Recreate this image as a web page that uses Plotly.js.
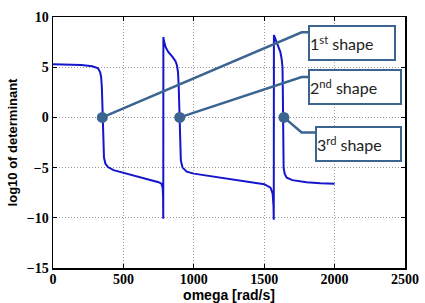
<!DOCTYPE html>
<html>
<head>
<meta charset="utf-8">
<script src="https://cdn.plot.ly/plotly-3.0.1.min.js"></script>
<style>html,body{margin:0;padding:0;background:#fff;}#chart{width:425px;height:303px;}</style>
</head>
<body>
<div id="chart"></div>
<script>
// log10 of determinant vs omega
var omega = [0, 100, 200, 280, 320, 335, 342, 347, 350, 352, 354, 357, 362, 372, 390, 430, 500, 600, 690, 750, 770, 779, 782, 783,
             784, 788, 800, 820, 850, 870, 880, 888, 893, 897, 900, 903, 908, 920, 950, 1000, 1100, 1200, 1300, 1400, 1500, 1545, 1560, 1566, 1568,
             1569, 1580, 1600, 1615, 1625, 1630, 1632, 1634, 1636, 1638, 1645, 1660, 1700, 1800, 1900, 2000];
var logDet = [5.3, 5.28, 5.22, 5.1, 4.9, 4.5, 4.0, 3.0, 1.5, 0, -1.5, -3.0, -4.0, -4.6, -4.95, -5.25, -5.5, -5.85, -6.2, -6.45, -6.6, -7.0, -8.0, -10.1,
              8.0, 7.6, 7.0, 6.5, 6.0, 5.6, 5.2, 4.5, 3.0, 1.0, -1.0, -3.0, -4.3, -5.0, -5.4, -5.6, -5.8, -6.0, -6.2, -6.4, -6.65, -7.0, -7.6, -8.8, -10.2,
              8.2, 7.8, 7.2, 6.5, 5.7, 5.0, 3.0, 0, -3.0, -5.0, -5.6, -6.0, -6.25, -6.45, -6.55, -6.6];

// mode shape points and their labels
var shapeOmega = [350, 900, 1640];
var shapeValue = [0, 0, 0];
var shapeLabels = ['1<sup>st</sup> shape', '2<sup>nd</sup> shape', '3<sup>rd</sup> shape'];
// leader line elbow / end points
var elbowOmega = [1766, 1766, 1766];
var elbowValue = [8.47, 4.03, -1.5];
var endOmega = [1818, 1818, 1868];
// label box centres
var boxOmega = [2120, 2144, 2169];
var boxValue = [7.4, 3.0, -2.6];
var boxWidth = [84, 90, 83];

var accent = '#3b6491';
var traces = [{
  x: omega, y: logDet, type: 'scatter', mode: 'lines',
  line: {color: '#1515cc', width: 2}, hoverinfo: 'skip'
}];
for (var i = 0; i < shapeOmega.length; i++) {
  traces.push({
    x: [shapeOmega[i], elbowOmega[i], endOmega[i]],
    y: [shapeValue[i], elbowValue[i], elbowValue[i]],
    type: 'scatter', mode: 'lines', line: {color: accent, width: 2.5}, hoverinfo: 'skip'
  });
}
traces.push({
  x: shapeOmega, y: shapeValue, type: 'scatter', mode: 'markers',
  marker: {color: accent, size: 11}, hoverinfo: 'skip'
});

var annotations = [];
for (var j = 0; j < shapeLabels.length; j++) {
  annotations.push({
    xref: 'x', yref: 'y', x: boxOmega[j], y: boxValue[j],
    xanchor: 'center', yanchor: 'middle', showarrow: false,
    text: shapeLabels[j], align: 'left', width: boxWidth[j], height: 32,
    bgcolor: '#ffffff', bordercolor: accent, borderwidth: 2, borderpad: 0,
    font: {family: 'Lato, Open Sans, sans-serif', size: 16, color: '#222222'}
  });
}

var tickFont = {family: 'Liberation Serif, Times New Roman, serif', size: 14, color: '#000', weight: 'bold'};
var titleFont = {family: 'Liberation Sans, Arial, sans-serif', size: 13, color: '#000', weight: 'bold'};

var layout = {
  width: 425, height: 303,
  margin: {l: 53, r: 20, t: 17, b: 35},
  paper_bgcolor: '#fff', plot_bgcolor: '#fff',
  showlegend: false,
  xaxis: {
    range: [0, 2500], tickvals: [0, 500, 1000, 1500, 2000, 2500],
    ticks: 'inside', ticklen: 4, tickcolor: '#000', mirror: 'ticks',
    showline: true, linecolor: '#000', linewidth: 1.5,
    showgrid: true, gridcolor: '#999', griddash: '1px,2px', gridwidth: 1,
    zeroline: false, tickfont: tickFont, ticklabelstandoff: -2,
    title: {text: 'omega [rad/s]', font: {family: titleFont.family, size: 14, color: '#000', weight: 'bold'}, standoff: 0}
  },
  yaxis: {
    range: [-15, 10], tickvals: [-15, -10, -5, 0, 5, 10],
    ticks: 'inside', ticklen: 4, tickcolor: '#000', mirror: 'ticks',
    showline: true, linecolor: '#000', linewidth: 1.5,
    showgrid: true, gridcolor: '#999', griddash: '1px,2px', gridwidth: 1,
    zeroline: false, tickfont: tickFont,
    title: {text: 'log10 of determinant', font: titleFont, standoff: 6}
  },
  annotations: annotations
};

Plotly.newPlot('chart', traces, layout, {displayModeBar: false, staticPlot: true});
</script>
</body>
</html>
